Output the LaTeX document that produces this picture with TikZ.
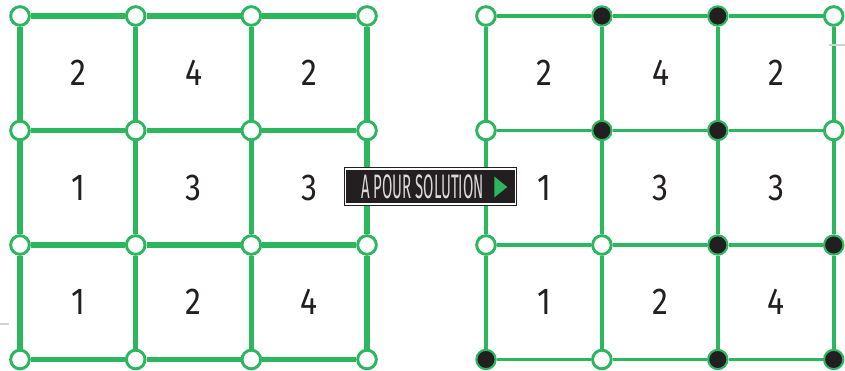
\documentclass[tikz,border=0pt]{standalone}
\usepackage{fontspec}
\usetikzlibrary{positioning,shapes.geometric}
\newfontfamily\chiffrefont[FakeStretch=0.85]{Fira Sans}
\newfontfamily\solfont[FakeStretch=0.44]{Fira Sans}
\definecolor{grillevert}{RGB}{44,182,94}
\definecolor{pionnoir}{RGB}{35,31,32}

\begin{document}
\begin{tikzpicture}[x=0.03cm,y=-0.03cm,
  som/.style={circle,draw=grillevert,line width=2.5pt,fill=white,minimum size=0.56cm,inner sep=0pt},
  pion/.style={som,line width=1.8pt,minimum size=0.58cm,fill=pionnoir},
  arete/.style={draw=grillevert,line width=4.3pt},
  aretefine/.style={draw=grillevert,line width=3.4pt},
  chiffre/.style={font=\chiffrefont\fontsize{32}{32}\selectfont,text=pionnoir},
  boite/.style={rectangle,draw=pionnoir,double=white,double distance=1pt,fill=pionnoir,line width=1pt,
                minimum width=5.1cm,minimum height=1.05cm,inner sep=0pt},
  lbl/.style={font=\solfont\fontsize{29}{29}\selectfont,text=white!85!black,inner sep=0pt},
  fleche/.style={isosceles triangle,isosceles triangle stretches,fill=grillevert,
                 minimum height=0.39cm,minimum width=0.63cm,inner sep=0pt}
]
\useasboundingbox (0,0) rectangle (845,371);

% Grille de gauche
\foreach \i/\x in {1/20,2/135.7,3/251.3,4/367}
  \foreach \j/\y in {1/16,2/130.5,3/245,4/359.5}
    \node[som] (g-\i-\j) at (\x,\y) {};
\foreach \i/\k in {1/2,2/3,3/4}
  \foreach \j in {1,2,3,4} {
    \draw[arete] (g-\i-\j) -- (g-\k-\j);
    \draw[arete] (g-\j-\i) -- (g-\j-\k);
  }
\foreach \x/\y/\n in {78/73/2,193.5/73/4,309/73/2,
                      78/188/1,193.5/188/3,309/188/3,
                      78/302/1,193.5/302/2,309/302/4}
  \node[chiffre] at (\x,\y) {\n};

% Grille solution
\foreach \i/\j/\st in {1/1/som,2/1/pion,3/1/pion,4/1/som,
                       1/2/som,2/2/pion,3/2/pion,4/2/som,
                       1/3/som,2/3/som,3/3/pion,4/3/pion,
                       1/4/pion,2/4/som,3/4/pion,4/4/pion} {
  \pgfmathsetmacro\xx{486+115.9*(\i-1)}
  \pgfmathsetmacro\yy{16+114.5*(\j-1)}
  \node[\st] (d-\i-\j) at (\xx,\yy) {};
}
\foreach \i/\k in {1/2,2/3,3/4}
  \foreach \j in {1,2,3,4} {
    \draw[aretefine] (d-\i-\j) -- (d-\k-\j);
    \draw[aretefine] (d-\j-\i) -- (d-\j-\k);
  }
\foreach \x/\y/\n in {544.5/73/2,660.5/73/4,776/73/2,
                      544.5/188/1,660.5/188/3,776/188/3,
                      544.5/302/1,660.5/302/2,776/302/4}
  \node[chiffre] at (\x,\y) {\n};

% Etiquette centrale
\node[boite] (sol) at (430.5,186.5) {};
\node[lbl] (txt) at (422.5,187) {A POUR SOLUTION};
\node[fleche,right=0.3cm of txt] (fl) {};

% petits traits gris
\draw[gray!35,line width=1pt] (829,45) -- (845,45);
\draw[gray!35,line width=1pt] (0,324) -- (9,324);
\end{tikzpicture}
\end{document}
